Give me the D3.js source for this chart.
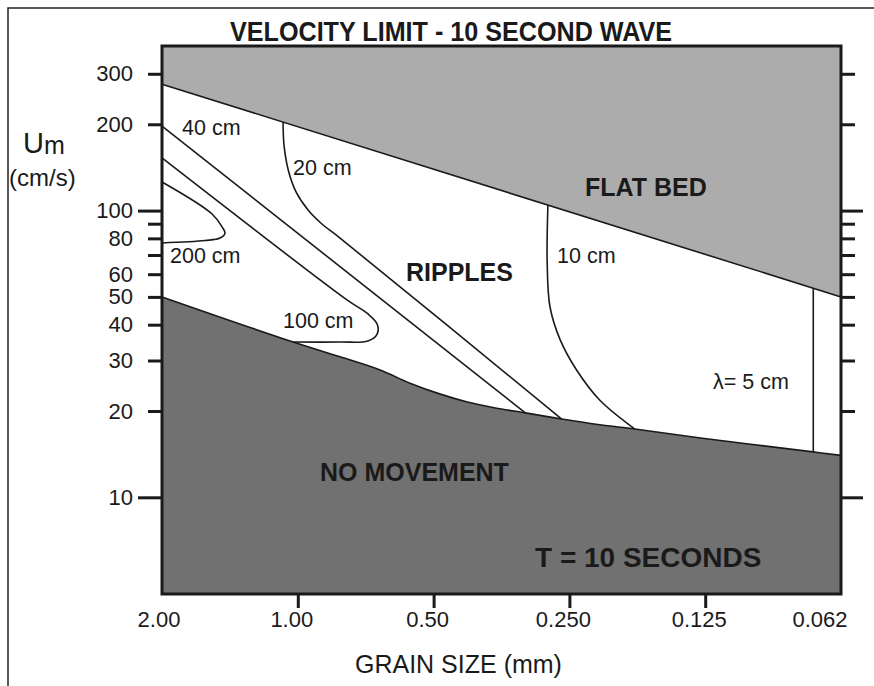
<!DOCTYPE html>
<html>
<head>
<meta charset="utf-8">
<script src="https://cdn.jsdelivr.net/npm/d3@7"></script>
<style>
  body { margin: 0; background: #fff; }
  svg { display: block; font-family: "Liberation Sans", Arial, sans-serif; }
</style>
</head>
<body>
<div id="chart"></div>
<script>
// Axis ticks
const xTickValues = [2, 1, 0.5, 0.25, 0.125, 0.0625];
const xTickLabels = ["2.00", "1.00", "0.50", "0.250", "0.125", "0.062"];
const yTickValues = [300, 200, 100, 90, 80, 70, 60, 50, 40, 30, 20, 10];
const yLabeled = [300, 200, 100, 80, 60, 50, 40, 30, 20, 10];
const yLongTicks = [100, 10];

// Upper limit of ripples (flat bed), grain size mm / velocity cm/s
const flatBedGrain = [2, 0.0625];
const flatBedU = [276, 50];

// Threshold of movement
const noMoveGrain = [2, 1.024, 0.806, 0.657, 0.564, 0.483, 0.421, 0.365, 0.313, 0.26, 0.214, 0.179, 0.128, 0.0721, 0.0625];
const noMoveU = [50, 34.8, 30.9, 27.8, 25.0, 22.9, 21.5, 20.5, 19.7, 18.75, 17.9, 17.3, 16.1, 14.4, 14.0];

// Ripple wavelength contours
const line40Grain = [2, 0.313];
const line40U = [197, 19.7];
const loop100Grain = [2, 0.778, 0.699, 0.667, 0.667, 0.699, 0.806, 1.024];
const loop100U = [152.6, 48.8, 43.6, 40.2, 37.1, 35.1, 34.8, 34.8];
const loop200Grain = [2, 1.549, 1.472, 1.45, 1.487, 1.606, 2];
const loop200U = [125.8, 97.3, 87.7, 83.5, 80.2, 78.6, 77.1];
const curve20Grain = [1.078, 1.073, 1.05, 1.009, 0.949, 0.884, 0.806, 0.26];
const curve20U = [203.8, 169.4, 138.6, 116.2, 100.5, 89.8, 80.2, 18.75];
const curve10Grain = [0.279, 0.28, 0.276, 0.262, 0.241, 0.214, 0.179];
const curve10U = [104.6, 65.6, 46.1, 35.4, 27.8, 21.8, 17.3];
const line5Grain = [0.072, 0.072];
const line5U = [53.7, 14.4];

const width = 874, height = 686;
const plot = { left: 162, right: 841, top: 46, bottom: 594 };

const svg = d3.select("#chart")
  .append("svg")
  .attr("width", width)
  .attr("height", height);

const x = d3.scaleLog()
  .domain([2, 0.0625])
  .range([plot.left, plot.right]);
const y = d3.scaleLog()
  .domain([4.6, 375])
  .range([plot.bottom, plot.top]);

const zip = (gs, us) => gs.map((g, i) => ({ g, u: us[i] }));

// outer frame (runs off the right and bottom edge)
svg.append("rect")
  .attr("x", 8).attr("y", 8)
  .attr("width", 900).attr("height", 700)
  .attr("fill", "none")
  .attr("stroke", "#222")
  .attr("stroke-width", 1.5);

// Regions
const upperArea = d3.area()
  .x(d => x(d.g))
  .y0(plot.top)
  .y1(d => y(d.u));
svg.append("path")
  .datum(zip(flatBedGrain, flatBedU))
  .attr("d", upperArea)
  .attr("fill", "#acacac");

const lowerArea = d3.area()
  .x(d => x(d.g))
  .y0(plot.bottom)
  .y1(d => y(d.u))
  .curve(d3.curveCatmullRom.alpha(0.5));
svg.append("path")
  .datum(zip(noMoveGrain, noMoveU))
  .attr("d", lowerArea)
  .attr("fill", "#717171");

// Lines
const line = d3.line()
  .x(d => x(d.g))
  .y(d => y(d.u))
  .curve(d3.curveCatmullRom.alpha(0.5));

const curves = [
  zip(flatBedGrain, flatBedU),
  zip(noMoveGrain, noMoveU),
  zip(line40Grain, line40U),
  zip(loop100Grain, loop100U),
  zip(loop200Grain, loop200U),
  zip(curve20Grain, curve20U),
  zip(curve10Grain, curve10U),
  zip(line5Grain, line5U)
];
svg.append("g")
  .selectAll("path")
  .data(curves)
  .join("path")
  .attr("d", line)
  .attr("fill", "none")
  .attr("stroke", "#1a1a1a")
  .attr("stroke-width", 1.6);

// Axes
const leftAxis = svg.append("g")
  .attr("transform", `translate(${plot.left},0)`)
  .call(d3.axisLeft(y)
    .tickValues(yTickValues)
    .tickSize(14)
    .tickPadding(15)
    .tickFormat(d => yLabeled.includes(d) ? d : ""));
leftAxis.selectAll(".tick line")
  .filter(d => yLongTicks.includes(d))
  .attr("x2", -24);

const rightAxis = svg.append("g")
  .attr("transform", `translate(${plot.right},0)`)
  .call(d3.axisRight(y)
    .tickValues(yTickValues)
    .tickSize(14)
    .tickFormat(""));
rightAxis.selectAll(".tick line")
  .filter(d => yLongTicks.includes(d))
  .attr("x2", 22);

const bottomAxis = svg.append("g")
  .attr("transform", `translate(0,${plot.bottom})`)
  .call(d3.axisBottom(x)
    .tickValues(xTickValues.slice(1, -1))
    .tickSize(14)
    .tickFormat(""));

svg.selectAll(".domain").remove();
svg.selectAll(".tick line")
  .attr("stroke", "#1a1a1a")
  .attr("stroke-width", 3);
leftAxis.selectAll(".tick text")
  .attr("font-size", 22)
  .attr("font-family", "Liberation Sans, Arial, sans-serif")
  .attr("fill", "#1a1a1a");

// x tick labels sit a little left of their ticks
const xNudge = i => i === 0 ? -3 : i === xTickValues.length - 1 ? -21 : -6;
svg.append("g")
  .selectAll("text")
  .data(xTickValues)
  .join("text")
  .attr("x", (d, i) => x(d) + xNudge(i))
  .attr("y", 627)
  .attr("text-anchor", "middle")
  .attr("font-size", 22)
  .attr("fill", "#1a1a1a")
  .text((d, i) => xTickLabels[i]);

// plot frame
svg.append("rect")
  .attr("x", plot.left).attr("y", plot.top)
  .attr("width", plot.right - plot.left)
  .attr("height", plot.bottom - plot.top)
  .attr("fill", "none")
  .attr("stroke", "#1a1a1a")
  .attr("stroke-width", 3);

// Titles and labels
const txt = (s, px, py, size, weight, extra) => {
  const t = svg.append("text")
    .attr("x", px).attr("y", py)
    .attr("font-size", size)
    .attr("font-weight", weight || "normal")
    .attr("fill", "#1a1a1a")
    .text(s);
  if (extra) extra(t);
  return t;
};

txt("VELOCITY LIMIT - 10 SECOND WAVE", 230, 41, 27, "bold",
  t => t.attr("textLength", 442).attr("lengthAdjust", "spacingAndGlyphs"));

const um = svg.append("text")
  .attr("x", 23).attr("y", 153)
  .attr("fill", "#1a1a1a");
um.append("tspan").attr("font-size", 29).text("U");
um.append("tspan").attr("font-size", 25).attr("dy", 1).text("m");
txt("(cm/s)", 9, 186, 24);

txt("GRAIN SIZE (mm)", 355, 673, 25);

txt("FLAT BED", 585, 196, 25, "bold");
txt("RIPPLES", 406, 281, 25, "bold");
txt("NO MOVEMENT", 320, 481, 25, "bold");
txt("T = 10 SECONDS", 535, 567, 28, "bold");

txt("40 cm", 182, 135, 21.5);
txt("20 cm", 293, 175, 21.5);
txt("200 cm", 170, 263, 21.5);
txt("100 cm", 283, 328, 21.5);
txt("10 cm", 557, 263, 21.5);
txt("λ= 5 cm", 713, 389, 21.5);
</script>
</body>
</html>
